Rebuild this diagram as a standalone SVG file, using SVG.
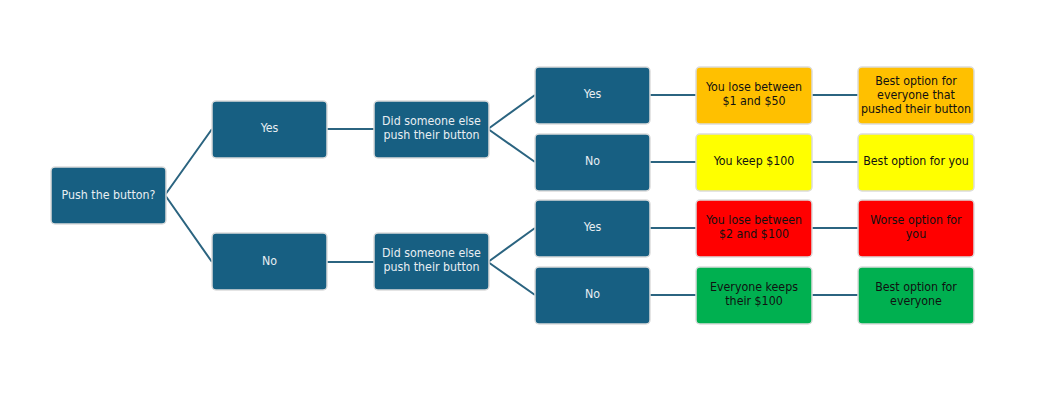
<svg xmlns="http://www.w3.org/2000/svg" width="1042" height="400" viewBox="0 0 1042 400">
<style>
.b rect{stroke:#dcdcdc;stroke-width:1.5}
.d rect{fill:#175f82}
.d text{fill:#e8eef2}
text{font-family:"DejaVu Sans Condensed","Liberation Sans",sans-serif;font-size:12.3px;text-anchor:middle}
.k text{fill:#111}
#conn path{stroke:#2b6480;stroke-width:2;fill:none}
</style>
<rect width="1042" height="400" fill="#fff"/>
<g id="conn">
<path d="M165,195 L212,129 M165,195 L212,262"/>
<path d="M327,129 H374 M327,262 H374"/>
<path d="M488,129 L535,95 M488,129 L535,162"/>
<path d="M488,262 L535,228 M488,262 L535,295"/>
<path d="M650,95 H696 M650,162 H696 M650,228 H696 M650,295 H696"/>
<path d="M812,95 H858 M812,162 H858 M812,228 H858 M812,295 H858"/>
</g>
<g id="push" class="b d"><rect x="51" y="167" width="115" height="57" rx="4"/><text x="108.5" y="199">Push the button?</text></g>
<g id="yes1" class="b d"><rect x="212" y="101" width="115" height="57" rx="4"/><text x="269.5" y="132">Yes</text></g>
<g id="no1" class="b d"><rect x="212" y="233" width="115" height="57" rx="4"/><text x="269.5" y="265">No</text></g>
<g id="did1" class="b d"><rect x="374" y="101" width="115" height="57" rx="4"/><text x="431.5" y="125">Did someone else</text><text x="431.5" y="139">push their button</text></g>
<g id="did2" class="b d"><rect x="374" y="233" width="115" height="57" rx="4"/><text x="431.5" y="257">Did someone else</text><text x="431.5" y="271">push their button</text></g>
<g id="yes2" class="b d"><rect x="535" y="67" width="115" height="57" rx="4"/><text x="592.5" y="98">Yes</text></g>
<g id="no2" class="b d"><rect x="535" y="134" width="115" height="57" rx="4"/><text x="592.5" y="165">No</text></g>
<g id="yes3" class="b d"><rect x="535" y="200" width="115" height="57" rx="4"/><text x="592.5" y="231">Yes</text></g>
<g id="no3" class="b d"><rect x="535" y="267" width="115" height="57" rx="4"/><text x="592.5" y="298">No</text></g>
<g id="r1" class="b k"><rect x="696" y="67" width="116" height="57" rx="4" fill="#ffc000"/><text x="754" y="91">You lose between</text><text x="754" y="105">$1 and $50</text></g>
<g id="r2" class="b k"><rect x="696" y="134" width="116" height="57" rx="4" fill="#ffff00"/><text x="754" y="165">You keep $100</text></g>
<g id="r3" class="b k"><rect x="696" y="200" width="116" height="57" rx="4" fill="#ff0000"/><text x="754" y="224">You lose between</text><text x="754" y="238">$2 and $100</text></g>
<g id="r4" class="b k"><rect x="696" y="267" width="116" height="57" rx="4" fill="#00b050"/><text x="754" y="291">Everyone keeps</text><text x="754" y="305">their $100</text></g>
<g id="o1" class="b k"><rect x="858" y="67" width="116" height="57" rx="4" fill="#ffc000"/><text x="916" y="85">Best option for</text><text x="916" y="99">everyone that</text><text x="916" y="113">pushed their button</text></g>
<g id="o2" class="b k"><rect x="858" y="134" width="116" height="57" rx="4" fill="#ffff00"/><text x="916" y="165">Best option for you</text></g>
<g id="o3" class="b k"><rect x="858" y="200" width="116" height="57" rx="4" fill="#ff0000"/><text x="916" y="224">Worse option for</text><text x="916" y="238">you</text></g>
<g id="o4" class="b k"><rect x="858" y="267" width="116" height="57" rx="4" fill="#00b050"/><text x="916" y="291">Best option for</text><text x="916" y="305">everyone</text></g>
</svg>
